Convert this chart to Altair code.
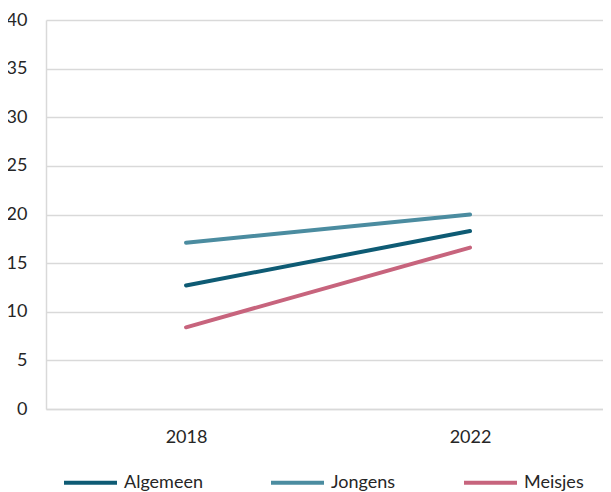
import altair as alt
import pandas as pd

years = ["2018", "2022"]
series = ["Algemeen", "Jongens", "Meisjes"]
algemeen = [12.7, 18.3]
jongens = [17.1, 20.0]
meisjes = [8.4, 16.6]
colors = ["#0e5b74", "#4b8ca0", "#c7647d"]

rows = []
for name, vals in zip(series, [algemeen, jongens, meisjes]):
    for y, v in zip(years, vals):
        rows.append({"jaar": y, "groep": name, "waarde": v})
df = pd.DataFrame(rows)

FONT = "Lato"
GRID = "#d9d9d9"

chart = alt.Chart(df).mark_line(strokeWidth=4, strokeCap="round").encode(
    x=alt.X("jaar:O", scale=alt.Scale(type="point", padding=0.4806, align=0.513),
            axis=alt.Axis(title=None, labelAngle=0, ticks=False, domainColor=GRID,
                          domainWidth=1.5, labelPadding=19, labelFontSize=18,
                          labelFont=FONT, labelColor="#262626", grid=False)),
    y=alt.Y("waarde:Q", scale=alt.Scale(domain=[0, 40]),
            axis=alt.Axis(title=None, values=list(range(0, 41, 5)), ticks=False,
                          domainColor=GRID, domainWidth=1.5, gridColor=GRID,
                          gridWidth=1.5, labelPadding=19, labelFontSize=18,
                          labelFont=FONT, labelColor="#262626")),
    color=alt.Color("groep:N", scale=alt.Scale(domain=series, range=colors),
                    legend=alt.Legend(title=None, orient="none", direction="horizontal",
                                      columns=3, legendX=16, legendY=434,
                                      symbolType="stroke", symbolSize=2809,
                                      symbolStrokeWidth=4, labelFontSize=18,
                                      labelFont=FONT, labelColor="#262626",
                                      labelOffset=5, columnPadding=60,
                                      gridAlign="each")),
).properties(
    width=557, height=389,
    autosize=alt.AutoSizeParams(type="none"),
    padding={"left": 38, "top": 12, "right": 0, "bottom": 83},
).configure_view(strokeWidth=0)

chart.save("out.html", embed_options={"renderer": "svg", "actions": False})
